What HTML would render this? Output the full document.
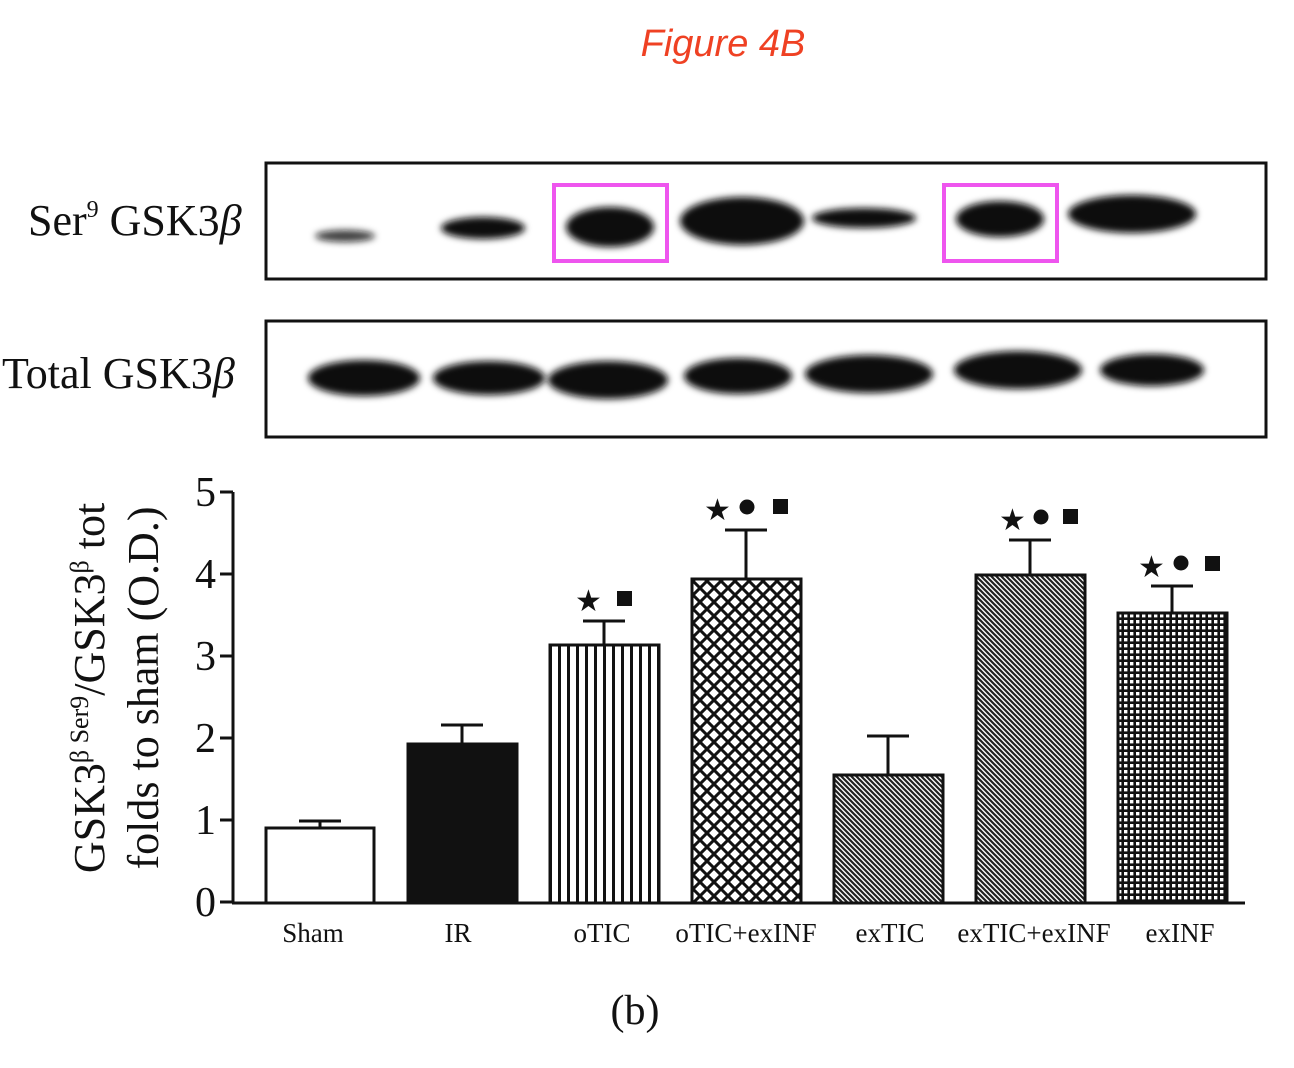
<!DOCTYPE html>
<html><head><meta charset="utf-8"><style>
html,body{margin:0;padding:0;background:#fff;}
svg{display:block;}
</style></head><body>
<svg width="1294" height="1068" viewBox="0 0 1294 1068" xmlns="http://www.w3.org/2000/svg">
<defs>
<filter id="bl" x="-30%" y="-100%" width="160%" height="300%"><feGaussianBlur stdDeviation="3.5"/></filter>
<pattern id="vs" width="9" height="10" patternUnits="userSpaceOnUse"><rect width="9" height="10" fill="#fff"/><rect x="0" width="3" height="10" fill="#111"/></pattern>
<pattern id="ch" width="14" height="14" patternUnits="userSpaceOnUse"><rect width="14" height="14" fill="#fff"/><path d="M0 0L14 14M14 0L0 14M-7 7L7 21M7 -7L21 7M7 21L21 7M-7 7L7 -7" stroke="#111" stroke-width="3"/></pattern>
<pattern id="dg" width="5" height="5" patternUnits="userSpaceOnUse"><rect width="5" height="5" fill="#fff"/><path d="M0 0L5 5M-5 0L5 10M0 -5L10 5" stroke="#222" stroke-width="2.2"/></pattern>
<pattern id="gr" width="6" height="6" patternUnits="userSpaceOnUse"><rect width="6" height="6" fill="#111"/><rect x="2" y="2" width="3.4" height="3.4" fill="#fff"/></pattern>
</defs>
<text x="723" y="56" font-family="Liberation Sans, sans-serif" font-style="italic" font-size="38" fill="#ef4123" text-anchor="middle">Figure 4B</text>

<text x="28" y="235" font-family="Liberation Serif, serif" font-size="44" fill="#111">Ser<tspan font-size="24" dy="-18">9</tspan><tspan dy="18"> GSK3</tspan><tspan font-style="italic">β</tspan></text>
<text x="2" y="388" font-family="Liberation Serif, serif" font-size="44" fill="#111">Total GSK3<tspan font-style="italic">β</tspan></text>

<rect x="266" y="163" width="1000" height="116" fill="#fff" stroke="#111" stroke-width="3"/>
<rect x="266" y="321" width="1000" height="116" fill="#fff" stroke="#111" stroke-width="3"/>
<g filter="url(#bl)" fill="#0a0a0a">
<ellipse cx="345" cy="236" rx="30" ry="6" opacity="0.8"/>
<ellipse cx="483" cy="228" rx="42" ry="11"/>
<ellipse cx="610" cy="227" rx="44" ry="20"/>
<ellipse cx="742" cy="221" rx="62" ry="24"/>
<ellipse cx="864" cy="218" rx="52" ry="10"/>
<ellipse cx="1000" cy="219" rx="44" ry="18"/>
<ellipse cx="1132" cy="214" rx="64" ry="19"/>
<ellipse cx="364" cy="378" rx="56" ry="18"/>
<ellipse cx="489" cy="378" rx="56" ry="17"/>
<ellipse cx="608" cy="380" rx="60" ry="19"/>
<ellipse cx="738" cy="376" rx="54" ry="18"/>
<ellipse cx="869" cy="374" rx="64" ry="19"/>
<ellipse cx="1018" cy="370" rx="64" ry="19"/>
<ellipse cx="1152" cy="370" rx="52" ry="16"/>
</g>
<rect x="554" y="185" width="113" height="76" fill="none" stroke="#ee55ee" stroke-width="4"/>
<rect x="944" y="185" width="113" height="76" fill="none" stroke="#ee55ee" stroke-width="4"/>

<g stroke="#111" stroke-width="3" fill="none">
<line x1="233" y1="492" x2="233" y2="903"/>
<line x1="232" y1="903" x2="1245" y2="903"/>
<line x1="220" y1="492" x2="233" y2="492"/><line x1="220" y1="574" x2="233" y2="574"/><line x1="220" y1="656" x2="233" y2="656"/><line x1="220" y1="738" x2="233" y2="738"/><line x1="220" y1="820" x2="233" y2="820"/><line x1="220" y1="902" x2="233" y2="902"/>
</g>
<g font-family="Liberation Serif, serif" font-size="42" fill="#111" text-anchor="end">
<text x="216" y="506">5</text><text x="216" y="588">4</text><text x="216" y="670">3</text><text x="216" y="752">2</text><text x="216" y="834">1</text><text x="216" y="916">0</text>
</g>
<text transform="translate(104,688) rotate(-90)" font-family="Liberation Serif, serif" font-size="44" fill="#111" text-anchor="middle">GSK3<tspan font-size="26" dy="-16">β Ser9</tspan><tspan dy="16">/GSK3</tspan><tspan font-size="26" dy="-16">β</tspan><tspan dy="16"> tot</tspan></text>
<text transform="translate(158,688) rotate(-90)" font-family="Liberation Serif, serif" font-size="44" fill="#111" text-anchor="middle">folds to sham (O.D.)</text>

<g stroke="#111" stroke-width="3">
<line x1="320" y1="828" x2="320" y2="821"/><line x1="299" y1="821" x2="341" y2="821"/>
<line x1="462" y1="744" x2="462" y2="725"/><line x1="441" y1="725" x2="483" y2="725"/>
<line x1="604" y1="645" x2="604" y2="621"/><line x1="583" y1="621" x2="625" y2="621"/>
<line x1="746" y1="579" x2="746" y2="530"/><line x1="725" y1="530" x2="767" y2="530"/>
<line x1="888" y1="775" x2="888" y2="736"/><line x1="867" y1="736" x2="909" y2="736"/>
<line x1="1030" y1="575" x2="1030" y2="540"/><line x1="1009" y1="540" x2="1051" y2="540"/>
<line x1="1172" y1="613" x2="1172" y2="586"/><line x1="1151" y1="586" x2="1193" y2="586"/>
</g>
<g stroke="#111" stroke-width="3">
<rect x="266" y="828" width="108" height="75" fill="#fff"/>
<rect x="408" y="744" width="109" height="159" fill="#111"/>
<rect x="550" y="645" width="109" height="258" fill="url(#vs)"/>
<rect x="692" y="579" width="109" height="324" fill="url(#ch)"/>
<rect x="834" y="775" width="109" height="128" fill="url(#dg)"/>
<rect x="976" y="575" width="109" height="328" fill="url(#dg)"/>
<rect x="1118" y="613" width="109" height="290" fill="url(#gr)"/>
</g>
<g font-family="DejaVu Sans, sans-serif" font-size="30" fill="#111">
<text x="575" y="611">★</text><rect x="617" y="591" width="15" height="15"/>
<text x="704" y="520">★</text><circle cx="747" cy="507" r="7.5"/><rect x="773" y="499" width="15" height="15"/>
<text x="999" y="530">★</text><circle cx="1041" cy="517" r="7.5"/><rect x="1063" y="509" width="15" height="15"/>
<text x="1138" y="577">★</text><circle cx="1181" cy="563" r="7.5"/><rect x="1205" y="556" width="15" height="15"/>
</g>
<g font-family="Liberation Serif, serif" font-size="27" fill="#111" text-anchor="middle">
<text x="313" y="942">Sham</text><text x="458" y="942">IR</text><text x="602" y="942">oTIC</text><text x="746" y="942">oTIC+exINF</text><text x="890" y="942">exTIC</text><text x="1034" y="942">exTIC+exINF</text><text x="1180" y="942">exINF</text>
</g>
<text x="635" y="1024" font-family="Liberation Serif, serif" font-size="42" fill="#111" text-anchor="middle">(b)</text>
</svg>
</body></html>
